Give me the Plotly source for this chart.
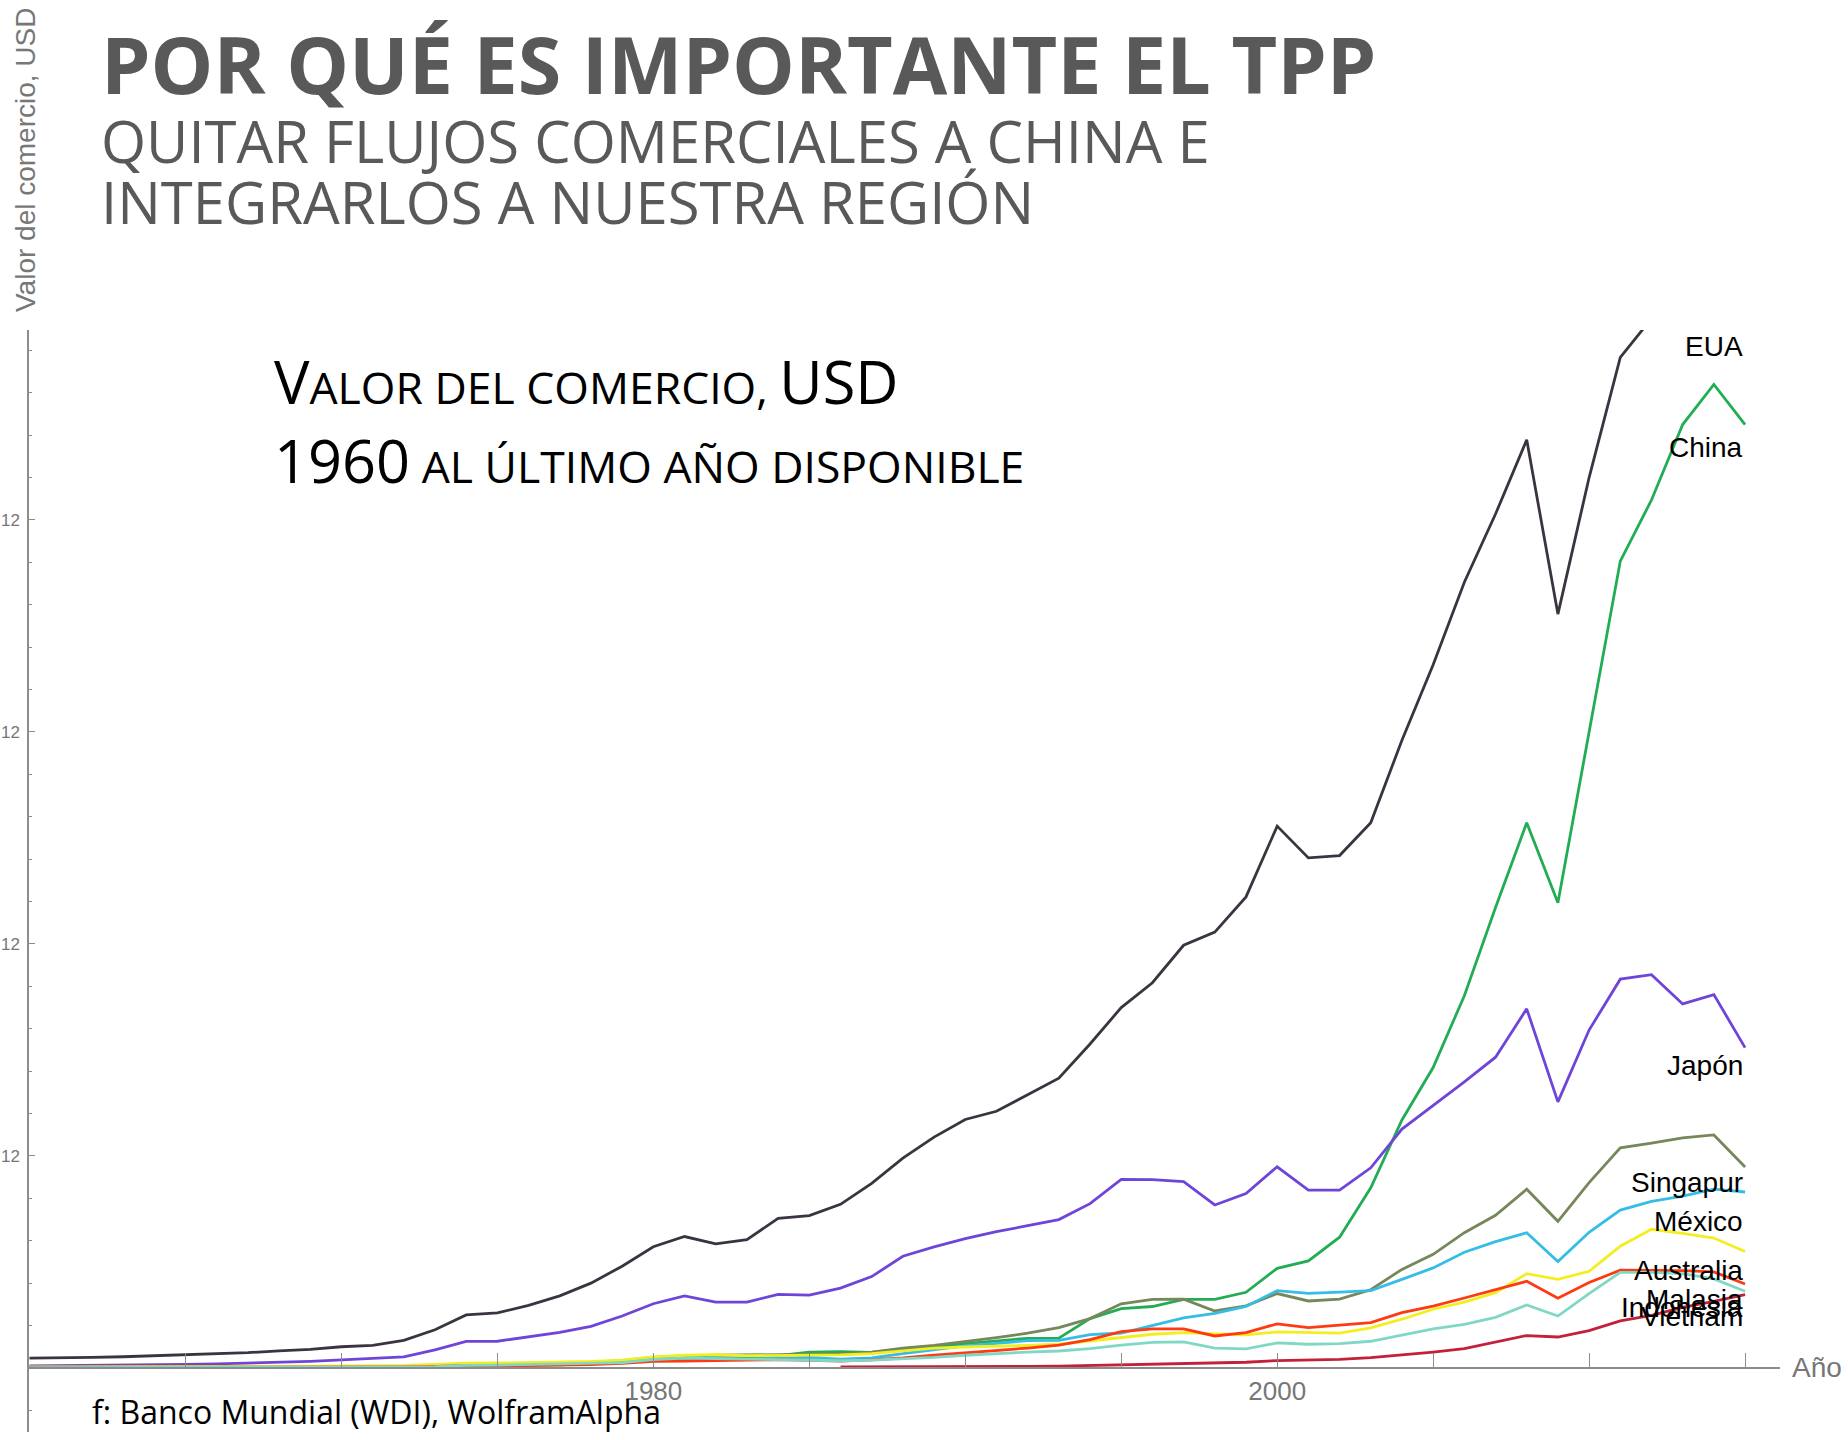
import plotly.graph_objects as go

# ---------------- data (trade value, 10^12 USD) ----------------
years = list(range(1960, 2016))
years_vietnam = list(range(1986, 2016))

eua = [0.046, 0.047, 0.050, 0.053, 0.058, 0.062, 0.068, 0.072, 0.081, 0.088,
       0.100, 0.107, 0.130, 0.180, 0.250, 0.260, 0.295, 0.340, 0.400, 0.480,
       0.572, 0.620, 0.585, 0.605, 0.706, 0.719, 0.772, 0.871, 0.990, 1.089,
       1.172, 1.211, 1.289, 1.367, 1.528, 1.700, 1.817, 1.994, 2.056, 2.222,
       2.556, 2.406, 2.417, 2.572, 2.961, 3.317, 3.706, 4.028, 4.378, 3.556,
       4.200, 4.767, 4.950, 5.050, 5.220, 5.030]
china = [0.004, 0.003, 0.003, 0.003, 0.0035, 0.004, 0.0045, 0.004, 0.004, 0.004,
         0.0046, 0.0048, 0.0063, 0.011, 0.0146, 0.0147, 0.0134, 0.0148, 0.0206, 0.029,
         0.040, 0.046, 0.044, 0.046, 0.058, 0.075, 0.077, 0.074, 0.090, 0.100,
         0.115, 0.126, 0.140, 0.141, 0.233, 0.280, 0.290, 0.324, 0.324, 0.357,
         0.470, 0.505, 0.617, 0.850, 1.170, 1.417, 1.756, 2.172, 2.572, 2.194,
         3.000, 3.806, 4.094, 4.450, 4.639, 4.450]
japon = [0.010, 0.011, 0.011, 0.013, 0.015, 0.017, 0.019, 0.022, 0.026, 0.031,
         0.038, 0.044, 0.052, 0.085, 0.125, 0.126, 0.146, 0.168, 0.196, 0.245,
         0.303, 0.340, 0.311, 0.311, 0.347, 0.344, 0.377, 0.431, 0.527, 0.571,
         0.610, 0.643, 0.671, 0.700, 0.775, 0.890, 0.888, 0.879, 0.769, 0.823,
         0.949, 0.839, 0.839, 0.944, 1.127, 1.238, 1.350, 1.466, 1.694, 1.255,
         1.594, 1.834, 1.855, 1.717, 1.761, 1.511]
singapur = [0.003, 0.003, 0.003, 0.003, 0.003, 0.003, 0.0035, 0.0037, 0.004, 0.0045,
            0.005, 0.0057, 0.0068, 0.011, 0.016, 0.016, 0.018, 0.021, 0.026, 0.035,
            0.050, 0.057, 0.060, 0.061, 0.062, 0.064, 0.066, 0.075, 0.094, 0.107,
            0.124, 0.143, 0.164, 0.190, 0.233, 0.303, 0.324, 0.325, 0.269, 0.293,
            0.351, 0.316, 0.325, 0.369, 0.465, 0.536, 0.638, 0.720, 0.843, 0.692,
            0.874, 1.038, 1.061, 1.085, 1.099, 0.948]
mexico = [0.0027, 0.0028, 0.003, 0.0032, 0.0037, 0.0039, 0.0042, 0.0044, 0.0049, 0.0055,
          0.0061, 0.0064, 0.0077, 0.0101, 0.0144, 0.0151, 0.0156, 0.0154, 0.0216, 0.0314,
          0.046, 0.055, 0.046, 0.042, 0.047, 0.050, 0.042, 0.047, 0.068, 0.085,
          0.104, 0.116, 0.129, 0.130, 0.157, 0.165, 0.200, 0.236, 0.258, 0.290,
          0.365, 0.352, 0.358, 0.365, 0.418, 0.472, 0.546, 0.596, 0.638, 0.502,
          0.640, 0.745, 0.786, 0.811, 0.844, 0.830]
australia = [0.0047, 0.0047, 0.0049, 0.0056, 0.0064, 0.0066, 0.0068, 0.0072, 0.0077, 0.0088,
             0.0098, 0.0104, 0.0121, 0.0174, 0.0232, 0.0235, 0.0259, 0.0276, 0.0306, 0.0372,
             0.052, 0.060, 0.063, 0.058, 0.060, 0.060, 0.062, 0.068, 0.082, 0.094,
             0.099, 0.102, 0.107, 0.112, 0.127, 0.143, 0.159, 0.167, 0.160, 0.156,
             0.170, 0.167, 0.164, 0.189, 0.230, 0.277, 0.311, 0.355, 0.445, 0.418,
             0.456, 0.574, 0.654, 0.635, 0.613, 0.549]
malasia = [0.0027, 0.0027, 0.0028, 0.0029, 0.003, 0.0032, 0.0033, 0.0033, 0.0034, 0.0037,
           0.0040, 0.0042, 0.0045, 0.0072, 0.0105, 0.0097, 0.0118, 0.0136, 0.0161, 0.0222,
           0.031, 0.033, 0.035, 0.038, 0.039, 0.036, 0.033, 0.038, 0.047, 0.060,
           0.071, 0.083, 0.094, 0.108, 0.134, 0.171, 0.184, 0.184, 0.151, 0.167,
           0.208, 0.190, 0.201, 0.214, 0.261, 0.292, 0.330, 0.371, 0.409, 0.329,
           0.403, 0.461, 0.461, 0.459, 0.453, 0.396]
indonesia = [0.0018, 0.0018, 0.0017, 0.0016, 0.0016, 0.0017, 0.0016, 0.0017, 0.0019, 0.0022,
             0.0030, 0.0034, 0.0045, 0.0068, 0.0127, 0.0133, 0.0160, 0.0188, 0.0200, 0.0250,
             0.040, 0.046, 0.044, 0.041, 0.040, 0.036, 0.034, 0.037, 0.042, 0.050,
             0.060, 0.068, 0.075, 0.080, 0.091, 0.108, 0.121, 0.123, 0.094, 0.090,
             0.118, 0.112, 0.115, 0.126, 0.154, 0.184, 0.206, 0.239, 0.297, 0.245,
             0.351, 0.451, 0.451, 0.445, 0.420, 0.362]
vietnam = [0.005, 0.005, 0.004, 0.005, 0.006, 0.006, 0.007, 0.009, 0.012, 0.016,
           0.021, 0.024, 0.025, 0.027, 0.035, 0.038, 0.041, 0.049, 0.061, 0.075,
           0.091, 0.123, 0.153, 0.146, 0.176, 0.222, 0.248, 0.286, 0.314, 0.346]

names = ["EUA", "China", "Japón", "Singapur", "México", "Australia", "Malasia", "Indonesia", "Vietnam"]
series = [eua, china, japon, singapur, mexico, australia, malasia, indonesia, vietnam]
series_years = [years] * 8 + [years_vietnam]

y_tickvals = [1, 2, 3, 4]
y_ticktext = ["12", "12", "12", "12"]
x_tickvals = list(range(1965, 2016, 5))
x_ticktext = ["" if v not in (1980, 2000) else str(v) for v in x_tickvals]

# ---------------- styling / layout ----------------
colors = ["#3b3440", "#22ad55", "#6e45d8", "#76875a", "#35bde6",
          "#f3ee1f", "#ff3a12", "#80d8c4", "#c32039"]
# vertical placement of end labels (in axis units)
label_y = [4.816, 4.344, 1.425, 0.873, 0.689, 0.462, 0.321, 0.283, 0.241]

W, H = 1848, 1440
ML, MR, MT, MB = 29, 68, 330, 8
X_RANGE = [1959.984, 2016.12]
Y_RANGE = [-0.302, 4.896]


def paper_x(px):
    return (px - ML) / (W - ML - MR)


def paper_y(py):
    return (H - MB - py) / (H - MT - MB)


fig = go.Figure()
for nm, ys, xs, col in zip(names, series, series_years, colors):
    fig.add_trace(go.Scatter(x=xs, y=ys, mode="lines", name=nm,
                             line=dict(color=col, width=2.8), showlegend=False,
                             hoverinfo="skip"))

annotations = []
for nm, ly in zip(names, label_y):
    annotations.append(dict(x=2015, y=ly, xref="x", yref="y", text=nm, showarrow=False,
                            xanchor="right", yanchor="middle",
                            font=dict(family="Liberation Sans", size=28, color="black")))

gray_title = "#595959"
annotations += [
    dict(x=paper_x(99), y=paper_y(64), xref="paper", yref="paper", xanchor="left", yanchor="middle",
         text="<b>POR QUÉ ES IMPORTANTE EL TPP</b>", showarrow=False,
         font=dict(family="Open Sans", size=79, color=gray_title)),
    dict(x=paper_x(99), y=paper_y(140), xref="paper", yref="paper", xanchor="left", yanchor="middle",
         text="QUITAR FLUJOS COMERCIALES A CHINA E", showarrow=False,
         font=dict(family="Open Sans", size=58, color=gray_title)),
    dict(x=paper_x(99), y=paper_y(201), xref="paper", yref="paper", xanchor="left", yanchor="middle",
         text="INTEGRARLOS A NUESTRA REGIÓN", showarrow=False,
         font=dict(family="Open Sans", size=58, color=gray_title)),
    dict(x=paper_x(272), y=paper_y(381), xref="paper", yref="paper", xanchor="left", yanchor="middle",
         text='V<span style="font-size:44.5px">ALOR DEL COMERCIO, </span>USD', showarrow=False,
         font=dict(family="Open Sans", size=59.5, color="black")),
    dict(x=paper_x(272), y=paper_y(460), xref="paper", yref="paper", xanchor="left", yanchor="middle",
         text='1960<span style="font-size:44.5px"> AL ÚLTIMO AÑO DISPONIBLE</span>', showarrow=False,
         font=dict(family="Open Sans", size=59.5, color="black")),
    dict(x=paper_x(90), y=paper_y(1411), xref="paper", yref="paper", xanchor="left", yanchor="middle",
         text="f: Banco Mundial (WDI), WolframAlpha", showarrow=False,
         font=dict(family="Open Sans", size=32, color="black")),
    dict(x=paper_x(1844), y=0, xref="paper", yref="y", xanchor="right", yanchor="middle",
         text="Año", showarrow=False,
         font=dict(family="Liberation Sans", size=28, color="#777777")),
    dict(x=paper_x(26), y=paper_y(160), xref="paper", yref="paper", xanchor="center", yanchor="middle",
         text="Valor del comercio, USD", textangle=-90, showarrow=False,
         font=dict(family="Liberation Sans", size=28, color="#777777")),
]

axis_gray = "#8c8c8c"
fig.update_layout(
    width=W, height=H,
    margin=dict(l=ML, r=MR, t=MT, b=MB, autoexpand=False),
    paper_bgcolor="white", plot_bgcolor="white",
    annotations=annotations,
    xaxis=dict(range=X_RANGE, anchor="free", position=-Y_RANGE[0] / (Y_RANGE[1] - Y_RANGE[0]),
               automargin=False,
               showline=True, linecolor=axis_gray, linewidth=1.5,
               showgrid=False, zeroline=False,
               tickmode="array", tickvals=x_tickvals, ticktext=x_ticktext,
               ticks="inside", ticklen=14, tickwidth=1.3, tickcolor=axis_gray,
               ticklabelstandoff=0,
               tickfont=dict(family="Liberation Sans", size=26, color="#777777")),
    yaxis=dict(range=Y_RANGE, automargin=False,
               showline=True, linecolor=axis_gray, linewidth=1.5,
               showgrid=False, zeroline=False,
               tickmode="array", tickvals=y_tickvals, ticktext=y_ticktext,
               ticks="inside", ticklen=6, tickwidth=1.2, tickcolor=axis_gray,
               ticklabelstandoff=4,
               minor=dict(dtick=0.2, tick0=0, ticks="inside", ticklen=3, tickwidth=1.0,
                          tickcolor=axis_gray, showgrid=False),
               tickfont=dict(family="Liberation Sans", size=17, color="#777777")),
)

fig.write_html("out.html", config={"displayModeBar": False},
               post_script="document.body.style.margin='0';document.body.style.padding='0';")
